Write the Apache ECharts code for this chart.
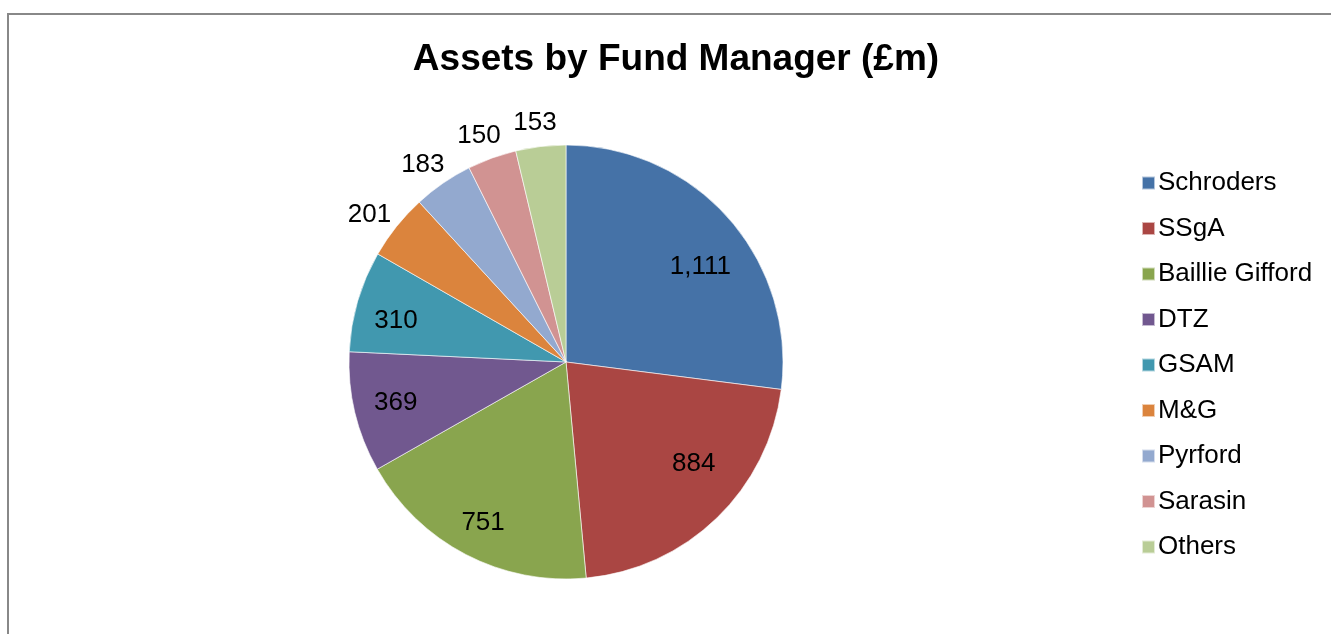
<!DOCTYPE html>
<html lang="en">
<head>
    <meta charset="UTF-8">
    <title>Assets by Fund Manager</title>
    <style>
        body { margin: 0; background: #fff; }
        #main { width: 1331px; height: 634px; }
    </style>
</head>
<body>
    <div id="main"></div>
    <script src="https://cdn.jsdelivr.net/npm/echarts@6/dist/echarts.min.js"></script>
    <script>
        // data
        var managers = ['Schroders', 'SSgA', 'Baillie Gifford', 'DTZ', 'GSAM', 'M&G', 'Pyrford', 'Sarasin', 'Others']
        var assets = [1111, 884, 751, 369, 310, 201, 183, 150, 153]
        var colors = ['#4572A7', '#AA4643', '#89A54E', '#71588F', '#4198AF', '#DB843D', '#93A9CF', '#D19392', '#B9CD96']
        // which labels sit inside the slice (the rest go outside)
        var insideLabel = [true, true, true, true, true, false, false, false, false]

        // small label nudges, so the numbers sit where Excel put them
        var labelNudge = { 'Schroders': [3, 20], 'SSgA': [6, -24], 'Baillie Gifford': [-2, 6], 'GSAM': [-2, 8] }

        var center = [566, 362]
        var font = 'Arial, "Liberation Sans", sans-serif'

        function sliceData(show, shift) {
            return managers.map(function (name, i) {
                return {
                    name: name,
                    value: assets[i],
                    label: { show: show(i), offset: shift ? shift(name) : [0, 0] }
                }
            })
        }

        var myChart = echarts.init(document.getElementById('main'))
        var option = {
            color: colors,
            animation: false,
            title: {
                text: 'Assets by Fund Manager (£m)',
                left: 671,
                top: 36,
                textAlign: 'center',
                textStyle: { fontFamily: font, fontSize: 37, fontWeight: 'bold', color: '#000' }
            },
            legend: {
                orient: 'vertical',
                left: 1136,
                top: 165,
                itemWidth: 13,
                itemHeight: 13,
                itemGap: 19.5,
                icon: 'rect',
                textStyle: { fontFamily: font, fontSize: 26, color: '#000', padding: [0, 0, 0, -2] },
                data: managers
            },
            graphic: [{
                type: 'rect',
                silent: true,
                shape: { x: 8, y: 14, width: 2000, height: 2000 },
                style: { fill: 'none', stroke: '#888', lineWidth: 2 }
            }],
            series: [
                {
                    // the visible pie
                    type: 'pie',
                    center: center,
                    radius: 217,
                    startAngle: 90,
                    clockwise: true,
                    label: { show: false },
                    labelLine: { show: false },
                    itemStyle: { borderColor: 'rgba(255,255,255,0.6)', borderWidth: 1 },
                    data: sliceData(function () { return false })
                },
                {
                    // inside labels
                    type: 'pie',
                    silent: true,
                    center: center,
                    radius: [127, 217],
                    startAngle: 90,
                    itemStyle: { color: 'rgba(0,0,0,0)' },
                    label: {
                        position: 'inside',
                        fontFamily: font, fontSize: 26, color: '#000',
                        formatter: function (p) { return p.value.toLocaleString('en-GB') }
                    },
                    labelLine: { show: false },
                    data: sliceData(function (i) { return insideLabel[i] },
                        function (name) { return labelNudge[name] || [0, 0] })
                },
                {
                    // outside labels
                    type: 'pie',
                    silent: true,
                    center: center,
                    radius: [217, 275],
                    startAngle: 90,
                    itemStyle: { color: 'rgba(0,0,0,0)' },
                    label: {
                        position: 'inside',
                        fontFamily: font, fontSize: 26, color: '#000',
                        formatter: function (p) { return p.value.toLocaleString('en-GB') }
                    },
                    labelLine: { show: false },
                    data: sliceData(function (i) { return !insideLabel[i] },
                        function () { return [-2, 8] })
                }
            ]
        }
        myChart.setOption(option)
    </script>
</body>
</html>
